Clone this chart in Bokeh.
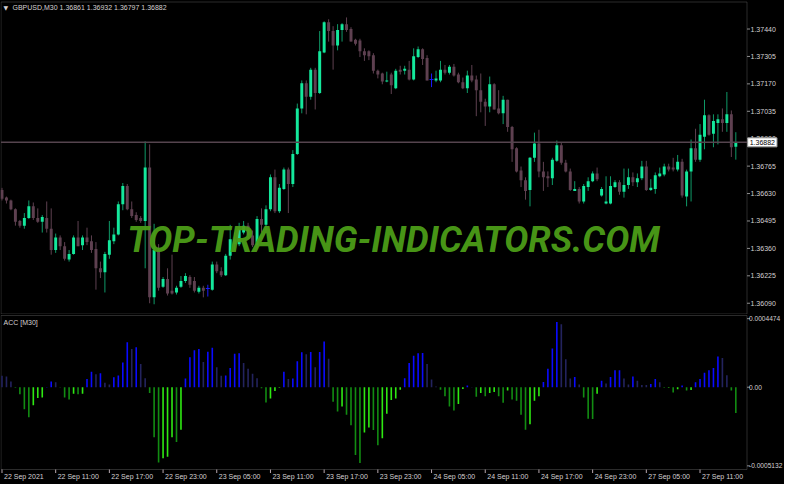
from bokeh.plotting import figure
from bokeh.layouts import column
from bokeh.models import Range1d, Label, BoxAnnotation
from bokeh.embed import file_html
from bokeh.resources import INLINE
from bokeh.core.properties import value

# ---------------- data (GBPUSD M30, 165 bars from 22 Sep 2021 05:00) ----------------
opens = [1.36648, 1.36610, 1.36596, 1.36553, 1.36495, 1.36472, 1.36510, 1.36567, 1.36510, 1.36491,
         1.36510, 1.36457, 1.36352, 1.36414, 1.36371, 1.36305, 1.36333, 1.36414, 1.36376, 1.36414,
         1.36395, 1.36357, 1.36262, 1.36243, 1.36329, 1.36395, 1.36429, 1.36577, 1.36667, 1.36553,
         1.36524, 1.36510, 1.36495, 1.36758, 1.36119, 1.36352, 1.36171, 1.36209, 1.36152, 1.36143,
         1.36171, 1.36200, 1.36219, 1.36200, 1.36147, 1.36166, 1.36162, 1.36157, 1.36281, 1.36247,
         1.36228, 1.36324, 1.36405, 1.36381, 1.36438, 1.36472, 1.36424, 1.36376, 1.36505, 1.36476,
         1.36553, 1.36710, 1.36543, 1.36653, 1.36748, 1.36677, 1.36825, 1.37049, 1.37173, 1.37106,
         1.37240, 1.37125, 1.37325, 1.37473, 1.37430, 1.37359, 1.37435, 1.37464, 1.37440, 1.37387,
         1.37383, 1.37330, 1.37330, 1.37311, 1.37235, 1.37221, 1.37182, 1.37216, 1.37149, 1.37240,
         1.37235, 1.37240, 1.37192, 1.37302, 1.37340, 1.37297, 1.37192, 1.37187, 1.37187, 1.37240,
         1.37225, 1.37254, 1.37216, 1.37178, 1.37149, 1.37211, 1.37192, 1.37139, 1.37082, 1.37058,
         1.37168, 1.37049, 1.37025, 1.37092, 1.36958, 1.36853, 1.36744, 1.36696, 1.36648, 1.36806,
         1.36877, 1.36739, 1.36715, 1.36705, 1.36791, 1.36868, 1.36782, 1.36739, 1.36643, 1.36653,
         1.36591, 1.36662, 1.36691, 1.36729, 1.36620, 1.36581, 1.36581, 1.36662, 1.36686, 1.36639,
         1.36672, 1.36710, 1.36686, 1.36705, 1.36763, 1.36648, 1.36653, 1.36715, 1.36724, 1.36763,
         1.36758, 1.36748, 1.36786, 1.36615, 1.36739, 1.36853, 1.36796, 1.36910, 1.37015, 1.36925,
         1.36977, 1.36996, 1.36977, 1.37020, 1.36861]
highs = [1.36658, 1.36615, 1.36600, 1.36557, 1.36500, 1.36534, 1.36596, 1.36586, 1.36557, 1.36524,
         1.36591, 1.36557, 1.36433, 1.36424, 1.36391, 1.36352, 1.36424, 1.36495, 1.36424, 1.36462,
         1.36424, 1.36391, 1.36295, 1.36343, 1.36495, 1.36462, 1.36591, 1.36682, 1.36677, 1.36591,
         1.36538, 1.36519, 1.36887, 1.36872, 1.36481, 1.36381, 1.36219, 1.36262, 1.36329, 1.36176,
         1.36224, 1.36238, 1.36228, 1.36219, 1.36176, 1.36176, 1.36181, 1.36295, 1.36295, 1.36267,
         1.36333, 1.36476, 1.36438, 1.36486, 1.36495, 1.36486, 1.36448, 1.36519, 1.36557, 1.36572,
         1.36724, 1.36748, 1.36677, 1.36758, 1.36758, 1.36844, 1.37073, 1.37187, 1.37187, 1.37249,
         1.37249, 1.37430, 1.37478, 1.37488, 1.37454, 1.37464, 1.37469, 1.37497, 1.37449, 1.37392,
         1.37392, 1.37345, 1.37335, 1.37321, 1.37240, 1.37225, 1.37230, 1.37225, 1.37244, 1.37259,
         1.37259, 1.37283, 1.37345, 1.37354, 1.37345, 1.37311, 1.37221, 1.37235, 1.37283, 1.37263,
         1.37263, 1.37268, 1.37225, 1.37201, 1.37235, 1.37263, 1.37211, 1.37221, 1.37097, 1.37206,
         1.37173, 1.37139, 1.37111, 1.37092, 1.36963, 1.36858, 1.36763, 1.36710, 1.36810, 1.36930,
         1.36944, 1.36786, 1.36739, 1.36806, 1.36891, 1.36882, 1.36796, 1.36753, 1.36691, 1.36662,
         1.36677, 1.36710, 1.36739, 1.36758, 1.36662, 1.36715, 1.36715, 1.36696, 1.36696, 1.36753,
         1.36753, 1.36734, 1.36729, 1.36791, 1.36791, 1.36701, 1.36734, 1.36758, 1.36777, 1.36777,
         1.36806, 1.36820, 1.36801, 1.36748, 1.36896, 1.36949, 1.36972, 1.37092, 1.37020, 1.37020,
         1.37020, 1.37049, 1.37130, 1.37039, 1.36932]
lows = [1.36596, 1.36581, 1.36548, 1.36472, 1.36462, 1.36457, 1.36505, 1.36500, 1.36486, 1.36438,
        1.36438, 1.36329, 1.36338, 1.36352, 1.36300, 1.36295, 1.36329, 1.36371, 1.36352, 1.36376,
        1.36338, 1.36157, 1.36214, 1.36143, 1.36309, 1.36381, 1.36424, 1.36548, 1.36548, 1.36510,
        1.36491, 1.36486, 1.36262, 1.36090, 1.36085, 1.36152, 1.36166, 1.36128, 1.36133, 1.36133,
        1.36166, 1.36190, 1.36166, 1.36143, 1.36138, 1.36119, 1.36123, 1.36152, 1.36238, 1.36219,
        1.36224, 1.36305, 1.36352, 1.36371, 1.36429, 1.36410, 1.36367, 1.36362, 1.36438, 1.36448,
        1.36543, 1.36534, 1.36534, 1.36648, 1.36534, 1.36662, 1.36820, 1.37025, 1.37020, 1.37092,
        1.37044, 1.37120, 1.37321, 1.37378, 1.37240, 1.37335, 1.37378, 1.37426, 1.37378, 1.37359,
        1.37302, 1.37283, 1.37287, 1.37221, 1.37197, 1.37168, 1.37178, 1.37120, 1.37144, 1.37216,
        1.37216, 1.37187, 1.37187, 1.37297, 1.37263, 1.37187, 1.37154, 1.37178, 1.37178, 1.37216,
        1.37216, 1.37206, 1.37173, 1.37144, 1.37125, 1.37178, 1.37011, 1.37030, 1.36963, 1.37030,
        1.37044, 1.37020, 1.36972, 1.36934, 1.36786, 1.36734, 1.36662, 1.36600, 1.36567, 1.36786,
        1.36710, 1.36643, 1.36662, 1.36672, 1.36786, 1.36772, 1.36734, 1.36643, 1.36643, 1.36581,
        1.36581, 1.36643, 1.36686, 1.36691, 1.36615, 1.36577, 1.36577, 1.36658, 1.36624, 1.36610,
        1.36653, 1.36667, 1.36662, 1.36696, 1.36643, 1.36643, 1.36629, 1.36710, 1.36715, 1.36739,
        1.36739, 1.36739, 1.36610, 1.36567, 1.36591, 1.36786, 1.36786, 1.36848, 1.36915, 1.36858,
        1.36872, 1.36934, 1.36934, 1.36810, 1.36797]
closes = [1.36605, 1.36596, 1.36553, 1.36491, 1.36472, 1.36510, 1.36567, 1.36510, 1.36491, 1.36515,
          1.36457, 1.36352, 1.36414, 1.36371, 1.36309, 1.36333, 1.36414, 1.36371, 1.36414, 1.36391,
          1.36352, 1.36262, 1.36243, 1.36333, 1.36400, 1.36429, 1.36577, 1.36667, 1.36553, 1.36519,
          1.36500, 1.36495, 1.36758, 1.36119, 1.36352, 1.36166, 1.36209, 1.36138, 1.36138, 1.36166,
          1.36200, 1.36224, 1.36181, 1.36152, 1.36166, 1.36152, 1.36162, 1.36281, 1.36247, 1.36228,
          1.36324, 1.36405, 1.36381, 1.36453, 1.36472, 1.36424, 1.36376, 1.36505, 1.36476, 1.36553,
          1.36710, 1.36543, 1.36658, 1.36748, 1.36677, 1.36825, 1.37049, 1.37173, 1.37106, 1.37240,
          1.37125, 1.37330, 1.37473, 1.37430, 1.37359, 1.37435, 1.37464, 1.37435, 1.37378, 1.37368,
          1.37330, 1.37311, 1.37306, 1.37235, 1.37216, 1.37182, 1.37187, 1.37163, 1.37235, 1.37230,
          1.37244, 1.37192, 1.37306, 1.37340, 1.37292, 1.37187, 1.37192, 1.37197, 1.37240, 1.37225,
          1.37254, 1.37211, 1.37178, 1.37149, 1.37211, 1.37187, 1.37139, 1.37082, 1.37058, 1.37168,
          1.37044, 1.37025, 1.37092, 1.36958, 1.36848, 1.36739, 1.36696, 1.36643, 1.36806, 1.36877,
          1.36739, 1.36710, 1.36705, 1.36796, 1.36868, 1.36782, 1.36739, 1.36648, 1.36653, 1.36591,
          1.36667, 1.36691, 1.36729, 1.36701, 1.36653, 1.36591, 1.36667, 1.36686, 1.36639, 1.36672,
          1.36710, 1.36686, 1.36705, 1.36763, 1.36648, 1.36658, 1.36720, 1.36729, 1.36763, 1.36748,
          1.36748, 1.36786, 1.36620, 1.36739, 1.36853, 1.36796, 1.36920, 1.37015, 1.36920, 1.36987,
          1.36996, 1.36977, 1.37020, 1.36858, 1.36882]
acc = [74e-6, 70e-6, 38e-6, -4e-6, -46e-6, -143e-6, -196e-6, -118e-6, -70e-6, -67e-6,
       2e-6, 38e-6, 32e-6, -2e-6, -67e-6, -80e-6, -42e-6, -46e-6, -42e-6, 53e-6,
       101e-6, 84e-6, 91e-6, 29e-6, 17e-6, 65e-6, 76e-6, 162e-6, 293e-6, 249e-6,
       261e-6, 152e-6, 59e-6, -38e-6, -327e-6, -491e-6, -464e-6, -453e-6, -327e-6, -358e-6,
       -278e-6, 57e-6, 196e-6, 242e-6, 249e-6, 164e-6, 232e-6, 257e-6, 131e-6, 74e-6,
       76e-6, 126e-6, 219e-6, 221e-6, 158e-6, 120e-6, 88e-6, 59e-6, -6e-6, -99e-6,
       -74e-6, -25e-6, -4e-6, 101e-6, 53e-6, 57e-6, 169e-6, 228e-6, 215e-6, 230e-6,
       131e-6, 230e-6, 299e-6, 185e-6, -95e-6, -158e-6, -126e-6, -179e-6, -249e-6, -442e-6,
       -495e-6, -295e-6, -263e-6, -280e-6, -379e-6, -333e-6, -173e-6, -84e-6, -74e-6, -17e-6,
       59e-6, 158e-6, 206e-6, 221e-6, 223e-6, 152e-6, 51e-6, 4e-6, -17e-6, -59e-6,
       -126e-6, -152e-6, -110e-6, -11e-6, 11e-6, 2e-6, -63e-6, -38e-6, -59e-6, -38e-6,
       -32e-6, -59e-6, -101e-6, -21e-6, -80e-6, -88e-6, -179e-6, -278e-6, -242e-6, -88e-6,
       -59e-6, 34e-6, 120e-6, 253e-6, 426e-6, 411e-6, 183e-6, 57e-6, 67e-6, 17e-6,
       -67e-6, -206e-6, -207e-6, -42e-6, 42e-6, 25e-6, 67e-6, 110e-6, 111e-6, 57e-6,
       17e-6, 70e-6, 42e-6, 15e-6, 14e-6, 21e-6, 53e-6, 32e-6, -4e-6, -3e-6,
       -34e-6, -13e-6, 11e-6, -21e-6, -19e-6, 32e-6, 53e-6, 95e-6, 110e-6, 126e-6,
       200e-6, 190e-6, 78e-6, -21e-6, -169e-6]

price_ticks = [1.36090, 1.36225, 1.36360, 1.36495, 1.36630, 1.36765, 1.36900,
               1.37035, 1.37170, 1.37305, 1.37440]
price_tick_labels = ["1.36090", "1.36225", "1.36360", "1.36495", "1.36630", "1.36765", "1.36900",
                     "1.37035", "1.37170", "1.37305", "1.37440"]
last_price = 1.36882
acc_ticks = [0.0004474, 0.0, -0.0005132]
acc_tick_labels = ["0.0004474", "0.00", "-0.0005132"]
time_tick_bars = [0, 12, 24, 36, 48, 60, 72, 84, 96, 108, 120, 132, 144, 156]
time_labels = ["22 Sep 2021", "22 Sep 11:00", "22 Sep 17:00", "22 Sep 23:00",
               "23 Sep 05:00", "23 Sep 11:00", "23 Sep 17:00", "23 Sep 23:00",
               "24 Sep 05:00", "24 Sep 11:00", "24 Sep 17:00", "24 Sep 23:00",
               "27 Sep 05:00", "27 Sep 11:00"]
title_text = "GBPUSD,M30  1.36861 1.36932 1.36797 1.36882"
acc_title = "ACC [M30]"
watermark = "TOP-TRADING-INDICATORS.COM"

# ---------------- styling / layout ----------------
BG = "#000000"
FRAME = "#8e8e8e"
TXT = "#d4d0d2"
BULL = "#14e89c"
BULL_WICK = "#0f9a68"
BEAR = "#5e4050"
DOJI = "#1a1aff"
FONT = "Liberation Sans"
FS = "7px"

W = 784
H1 = 314
H2 = 170
PXB = 4.4746                      # pixels per bar
X0, X1 = -0.22, 166.5             # plot-area edges (in bars)
XS = X0 - 0.5 / PXB
xr = Range1d(XS, XS + W / PXB)
LBLX = X1 + 3.5 / PXB             # right-hand price labels
LBLX2 = X1 + 2.0 / PXB            # right-hand ACC labels
TICKX = X1 + 3.0 / PXB

# main panel vertical mapping: plot area 1.36037 .. 1.37573 over 312 px
P_LO, P_HI = 1.36037, 1.37573
PPX = (P_HI - P_LO) / 312
# ACC panel: -0.000537 .. 0.000468 over 154 px, 15 px label strip below
A_LO, A_HI = -0.000537, 0.000468
APX = (A_HI - A_LO) / 154

N = len(opens)
xs = list(range(N))


def base_fig(h, yr):
    f = figure(width=W, height=h, x_range=xr, y_range=yr, output_backend="svg",
               toolbar_location=None, x_axis_location=None, y_axis_location=None,
               min_border=0, background_fill_color=BG, border_fill_color=BG,
               outline_line_color=None)
    f.grid.visible = False
    return f


# ---------------- main price panel ----------------
p = base_fig(H1, Range1d(P_LO - 0.5 * PPX, P_HI + 1.5 * PPX))
p.add_layout(BoxAnnotation(left=X0, right=X1, bottom=P_LO, top=P_HI, fill_alpha=0,
                           line_color=FRAME, line_width=1, level="underlay"))

inc = [i for i in xs if closes[i] > opens[i]]
dec = [i for i in xs if closes[i] < opens[i]]
flat = [i for i in xs if closes[i] == opens[i]]

p.segment(x0=inc, x1=inc, y0=[highs[i] for i in inc], y1=[lows[i] for i in inc],
          line_color=BULL_WICK, line_width=1)
p.segment(x0=dec, x1=dec, y0=[highs[i] for i in dec], y1=[lows[i] for i in dec],
          line_color=BEAR, line_width=1)
p.segment(x0=flat, x1=flat, y0=[highs[i] for i in flat], y1=[lows[i] for i in flat],
          line_color=DOJI, line_width=1)
p.vbar(x=inc, width=0.66, top=[closes[i] for i in inc], bottom=[opens[i] for i in inc],
       fill_color=BULL, line_color=None)
p.vbar(x=dec, width=0.66, top=[opens[i] for i in dec], bottom=[closes[i] for i in dec],
       fill_color=BEAR, line_color=None)
p.rect(x=flat, y=[opens[i] for i in flat], width=0.9, height=1, height_units="screen",
       fill_color=DOJI, line_color=None)

# current price line
p.segment(x0=[X0], x1=[X1], y0=[last_price], y1=[last_price], line_color="#55444e",
          line_width=1.5)

# right price scale
p.segment(x0=[X1] * len(price_ticks), x1=[TICKX] * len(price_ticks), y0=price_ticks,
          y1=price_ticks, line_color=FRAME, line_width=1)
p.text(x=[LBLX] * len(price_ticks), y=price_ticks, text=price_tick_labels,
       text_font=value(FONT), text_font_size=FS, text_color=TXT, text_baseline="middle",
       text_align="left")
p.add_layout(Label(x=X1 + 0.15, y=last_price, text="%.5f" % last_price, text_font=FONT,
                   text_font_size=FS, text_color="#000000", text_baseline="middle",
                   background_fill_color="#ffffff", border_line_color="#9a9a9a",
                   padding=2))

p.add_layout(Label(x=393, y=75, x_units="screen", y_units="screen", text=watermark,
                   text_align="center", text_baseline="middle", text_font="Roboto",
                   text_font_style="bold italic", text_font_size="36px", text_color="#4c9e18",
                   text_alpha=0.95))

p.add_layout(Label(x=3, y=307, x_units="screen", y_units="screen", text="\u25BC",
                   text_font="DejaVu Sans", text_font_size="6px", text_color=TXT,
                   text_baseline="middle"))
p.add_layout(Label(x=12, y=307, x_units="screen", y_units="screen", text=title_text,
                   text_font=FONT, text_font_size=FS, text_color=TXT, text_baseline="middle"))

# ---------------- ACC panel ----------------
q = base_fig(H2, Range1d(A_LO - 15 * APX, A_HI + 1 * APX))
q.add_layout(BoxAnnotation(left=X0, right=X1, bottom=A_LO, top=A_HI, fill_alpha=0,
                           line_color=FRAME, line_width=1, level="underlay"))

acc_colors = []
for i, v in enumerate(acc):
    rising = i > 0 and v > acc[i - 1]
    if v >= 0:
        acc_colors.append("#0a0aff" if rising else "#23235e")
    else:
        acc_colors.append("#2ee812" if rising else "#128c12")
q.vbar(x=xs, width=0.36, top=acc, bottom=0, fill_color=acc_colors, line_color=None)

q.segment(x0=[X1] * len(acc_ticks), x1=[TICKX] * len(acc_ticks), y0=acc_ticks,
          y1=acc_ticks, line_color=FRAME, line_width=1)
q.text(x=[LBLX2] * len(acc_ticks), y=acc_ticks, text=acc_tick_labels,
       text_font=value(FONT), text_font_size="6.6px", text_color=TXT, text_baseline="middle",
       text_align="left")

# time scale
q.segment(x0=time_tick_bars, x1=time_tick_bars, y0=[A_LO] * len(time_tick_bars),
          y1=[A_LO - 3.5 * APX] * len(time_tick_bars), line_color="#b8a8b0", line_width=1)
q.text(x=time_tick_bars, y=[A_LO - 3 * APX] * len(time_tick_bars), text=time_labels,
       x_offset=2, text_font=value(FONT), text_font_size=FS, text_color=TXT,
       text_baseline="top", text_align="left")

q.add_layout(Label(x=3, y=162, x_units="screen", y_units="screen", text=acc_title,
                   text_font=FONT, text_font_size=FS, text_color=TXT, text_baseline="middle"))

layout = column(p, q, spacing=0, background="#000000")
open("out.html", "w").write(file_html(layout, INLINE))
